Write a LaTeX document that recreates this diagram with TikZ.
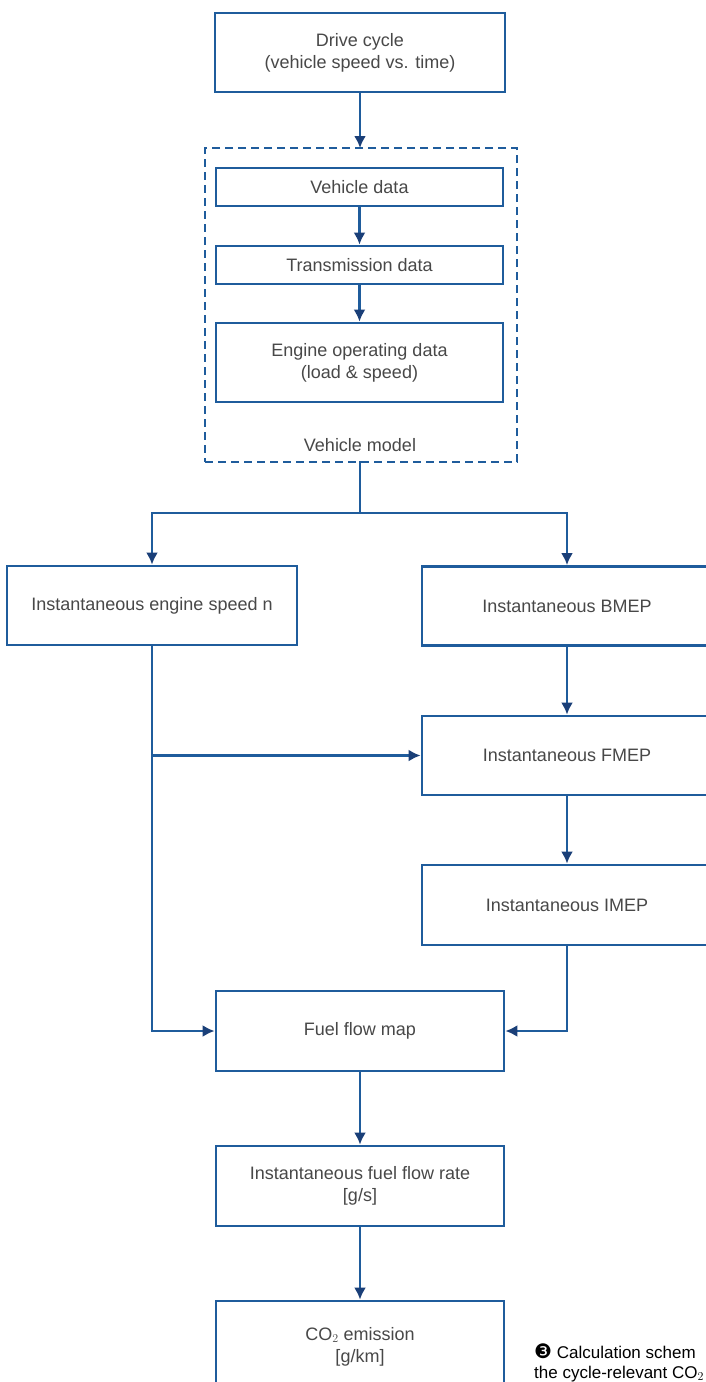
\documentclass[tikz,border=0pt]{standalone}
\usepackage{fontspec}
\setmainfont{Liberation Sans}
\newfontfamily\dejavu{DejaVu Sans}
\usetikzlibrary{arrows.meta}
\definecolor{boxblue}{HTML}{1F5C9C}
\definecolor{arrblue}{HTML}{1A3F78}
\definecolor{txtgray}{HTML}{484848}
\tikzset{
  flowbox/.style={draw=boxblue, line width=2.8pt, inner sep=0pt, align=center,
    text=txtgray, font=\fontsize{18}{22}\selectfont, fill=white},
  groupbox/.style={draw=boxblue, line width=2.6pt, dash pattern=on 8pt off 5pt, inner sep=0pt},
  conn/.style={draw=boxblue, line width=2.8pt},
  arr/.style={conn, -{Latex[length=12pt,width=12pt,color=arrblue]}},
  lbl/.style={text=txtgray, font=\fontsize{18}{22}\selectfont, inner sep=0pt},
  captxt/.style={text=black, font=\fontsize{17}{22}\selectfont, inner sep=0pt, anchor=base west}
}
\begin{document}
\begin{tikzpicture}[x=1pt,y=-1pt]
\useasboundingbox[fill=white] (0,0) rectangle (706,1382);
% group box
\node[groupbox, minimum width=312pt, minimum height=314pt] (vm) at (361,305) {};
\node[lbl] (vmlabel) at (360,445) {Vehicle model};
% boxes
\node[flowbox, minimum width=290pt, minimum height=79pt] (drive) at (360,52.5) {Drive cycle\\(vehicle speed vs. time)};
\node[flowbox, minimum width=287pt, minimum height=38pt] (vdata) at (359.5,187) {Vehicle data};
\node[flowbox, minimum width=287pt, minimum height=38pt] (tdata) at (359.5,265) {Transmission data};
\node[flowbox, minimum width=287pt, minimum height=79pt] (edata) at (359.5,362.5) {Engine operating data\\(load \& speed)};
\node[flowbox, minimum width=290pt, minimum height=79pt] (speed) at (152,605.5) {Instantaneous engine speed n};
\node[flowbox, minimum width=290pt, minimum height=79pt] (bmep) at (567,606) {Instantaneous BMEP};
\node[flowbox, minimum width=290pt, minimum height=79pt] (fmep) at (567,755.5) {Instantaneous FMEP};
\node[flowbox, minimum width=290pt, minimum height=80pt] (imep) at (567,905) {Instantaneous IMEP};
\node[flowbox, minimum width=288pt, minimum height=80pt] (fuel) at (360,1031) {Fuel flow map};
\node[flowbox, minimum width=288pt, minimum height=80pt] (rate) at (360,1186) {Instantaneous fuel flow rate\\{[g/s]}};
\node[flowbox, minimum width=288pt, minimum height=91pt] (co2) at (360,1346.5) {CO$_2$ emission\\{[g/km]}};
% helper coordinates
\coordinate (split) at (360,513);
\coordinate (vmtop) at (360,148);
\coordinate (vmbot) at (360,461);
% connectors
\draw[arr] (drive.south) -- (vmtop);
\draw[arr] (vdata) -- (tdata);
\draw[arr] (tdata) -- (edata);
\draw[conn] (vmbot) -- (split);
\draw[arr] (split) -| (speed.north);
\draw[arr] (split) -| (bmep.north);
\draw[arr] (bmep) -- (fmep);
\draw[arr] (fmep) -- (imep);
\draw[arr] (speed.south) |- (fuel.west);
\draw[arr] (speed.south |- fmep.west) -- (fmep.west);
\draw[arr] (imep.south) |- (fuel.east);
\draw[arr] (fuel) -- (rate);
\draw[arr] (rate) -- (co2);
% caption
\node[captxt] (cap1) at (534,1358) {{\dejavu\fontsize{20}{22}\selectfont ❸} Calculation schem};
\node[captxt] (cap2) at (534,1378) {the cycle-relevant CO$_2$};
\end{tikzpicture}
\end{document}
